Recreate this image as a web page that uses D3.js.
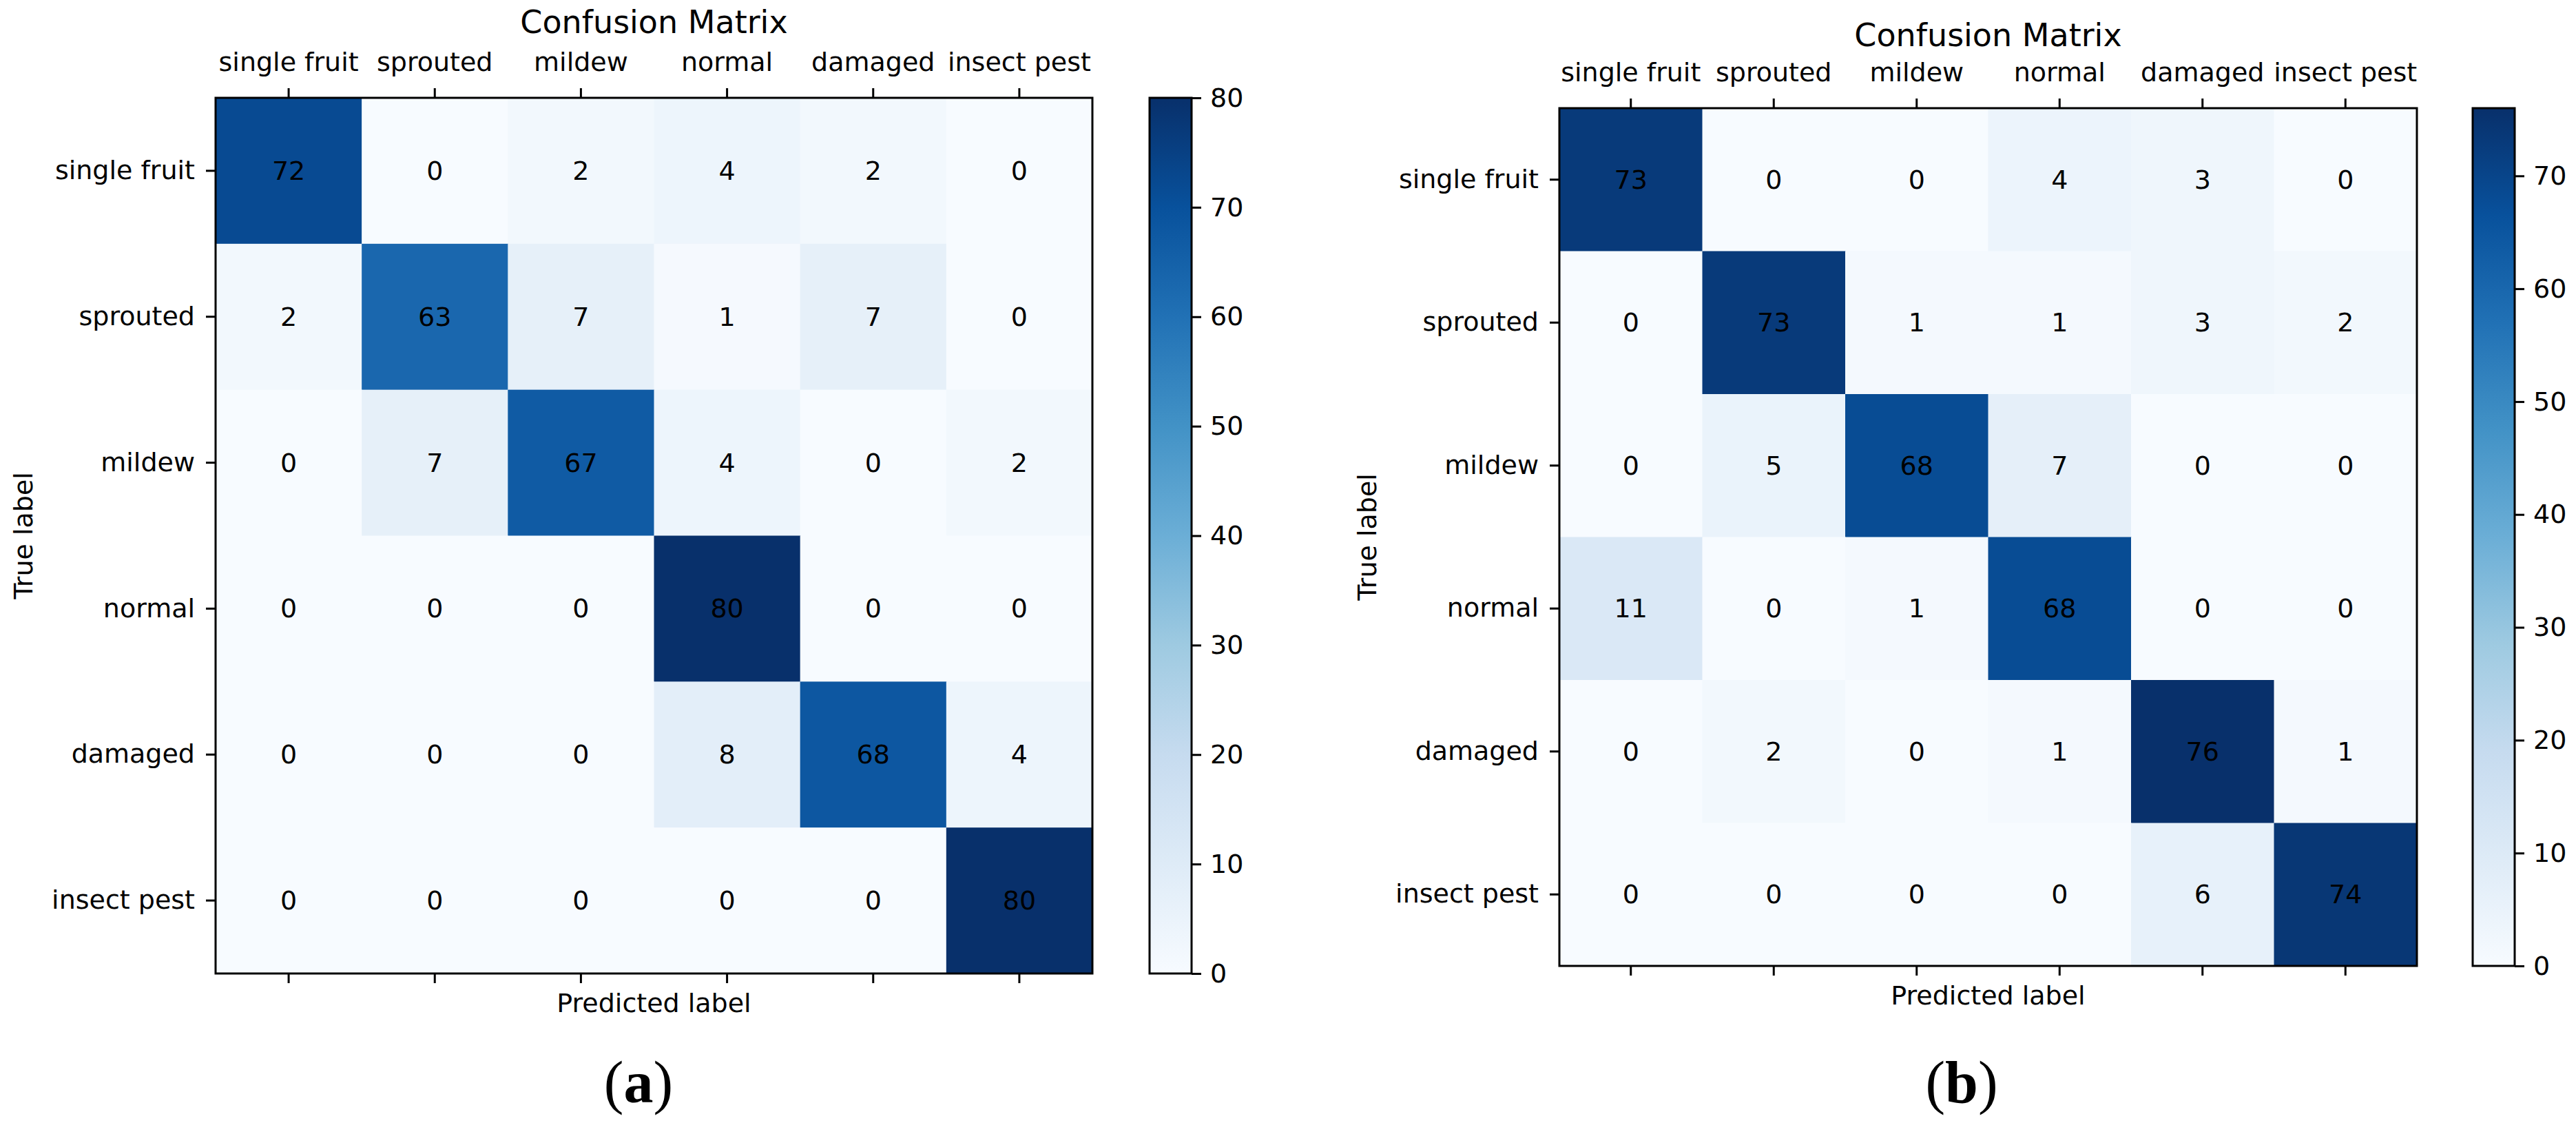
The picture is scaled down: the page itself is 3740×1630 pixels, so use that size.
<!DOCTYPE html>
<html>
<head>
<meta charset="utf-8">
<script src="https://cdn.jsdelivr.net/npm/d3@7"></script>
<style>
  body { margin: 0; background: #ffffff; }
  svg text { font-family: "DejaVu Sans", sans-serif; fill: #000; }
</style>
</head>
<body>
<svg id="figure" width="3740" height="1630"></svg>
<script>
// ------------------- données -------------------
var classes = ["single fruit", "sprouted", "mildew", "normal", "damaged", "insect pest"];

var matriceA = [
    [72, 0, 2, 4, 2, 0],
    [2, 63, 7, 1, 7, 0],
    [0, 7, 67, 4, 0, 2],
    [0, 0, 0, 80, 0, 0],
    [0, 0, 0, 8, 68, 4],
    [0, 0, 0, 0, 0, 80]
];
var matriceB = [
    [73, 0, 0, 4, 3, 0],
    [0, 73, 1, 1, 3, 2],
    [0, 5, 68, 7, 0, 0],
    [11, 0, 1, 68, 0, 0],
    [0, 2, 0, 1, 76, 1],
    [0, 0, 0, 0, 6, 74]
];
var ticksBarreA = [0, 10, 20, 30, 40, 50, 60, 70, 80];
var ticksBarreB = [0, 10, 20, 30, 40, 50, 60, 70];

var titre = "Confusion Matrix";
var labelX = "Predicted label";
var labelY = "True label";

// palette "Blues" de matplotlib (segments linéaires)
var bleus = ["#f7fbff", "#deebf7", "#c6dbef", "#9ecae1", "#6baed6", "#4292c6", "#2171b5", "#08519c", "#08306b"];

var svg = d3.select("#figure");

//-------------------Dessin d'une matrice de confusion avec sa barre de couleur----------------------------------------
function dessinerMatrice(matrice, ticksBarre, lettre, idGrad, pos) {
    var vmax = d3.max(matrice, function (r) { return d3.max(r); });
    var couleur = d3.scaleLinear()
        .domain(bleus.map(function (c, i) { return i / (bleus.length - 1) * vmax; }))
        .range(bleus)
        .interpolate(d3.interpolateRgb);

    var x = d3.scaleBand().domain(classes).range([pos.x, pos.x + pos.w]);
    var y = d3.scaleBand().domain(classes).range([pos.y, pos.y + pos.h]);

    var g = svg.append("g");

    // cellules
    matrice.forEach(function (ligne, l) {
        ligne.forEach(function (v, c) {
            g.append("rect")
                .attr("x", x(classes[c]))
                .attr("y", y(classes[l]))
                .attr("width", x.bandwidth() + 0.6)
                .attr("height", y.bandwidth() + 0.6)
                .attr("fill", couleur(v));
        });
    });
    // valeurs
    matrice.forEach(function (ligne, l) {
        ligne.forEach(function (v, c) {
            g.append("text")
                .attr("x", x(classes[c]) + x.bandwidth() / 2)
                .attr("y", y(classes[l]) + y.bandwidth() / 2)
                .attr("text-anchor", "middle")
                .attr("dominant-baseline", "central")
                .style("font-size", "38px")
                .text(v);
        });
    });

    // axes
    var axeHaut = g.append("g").attr("transform", "translate(0," + pos.y + ")")
        .call(d3.axisTop(x).tickSize(14).tickSizeOuter(0).tickPadding(25));
    var axeBas = g.append("g").attr("transform", "translate(0," + (pos.y + pos.h) + ")")
        .call(d3.axisBottom(x).tickSize(14).tickSizeOuter(0).tickFormat(""));
    var axeGauche = g.append("g").attr("transform", "translate(" + pos.x + ",0)")
        .call(d3.axisLeft(y).tickSize(14).tickSizeOuter(0).tickPadding(16));
    [axeHaut, axeBas, axeGauche].forEach(function (a) {
        a.select(".domain").remove();
        a.selectAll(".tick line").attr("stroke", "#000").attr("stroke-width", 3);
        a.selectAll(".tick text").style("font-size", "38px").attr("fill", "#000");
    });
    axeHaut.selectAll(".tick text").attr("dy", "0em");

    g.append("rect")
        .attr("x", pos.x).attr("y", pos.y)
        .attr("width", pos.w).attr("height", pos.h)
        .attr("fill", "none").attr("stroke", "#000").attr("stroke-width", 3);

    // titre et labels
    g.append("text")
        .attr("x", pos.x + pos.w / 2).attr("y", pos.titreY)
        .attr("text-anchor", "middle")
        .style("font-size", "46px")
        .text(titre);
    g.append("text")
        .attr("x", pos.x + pos.w / 2).attr("y", pos.labelXY)
        .attr("text-anchor", "middle")
        .style("font-size", "38px")
        .text(labelX);
    g.append("text")
        .attr("transform", "translate(" + pos.labelYX + "," + (pos.y + pos.h / 2) + ") rotate(-90)")
        .attr("text-anchor", "middle")
        .style("font-size", "38px")
        .text(labelY);

    // barre de couleur
    var echelleBarre = d3.scaleLinear().domain([0, vmax]).range([pos.y + pos.h, pos.y]);
    var grad = svg.append("defs").append("linearGradient")
        .attr("id", idGrad)
        .attr("x1", 0).attr("y1", 1).attr("x2", 0).attr("y2", 0);
    bleus.forEach(function (c, i) {
        grad.append("stop").attr("offset", i / (bleus.length - 1)).attr("stop-color", c);
    });
    g.append("rect")
        .attr("x", pos.cbX).attr("y", pos.y)
        .attr("width", pos.cbW).attr("height", pos.h)
        .attr("fill", "url(#" + idGrad + ")")
        .attr("stroke", "#000").attr("stroke-width", 3);
    var axeBarre = g.append("g").attr("transform", "translate(" + (pos.cbX + pos.cbW) + ",0)")
        .call(d3.axisRight(echelleBarre).tickValues(ticksBarre).tickSize(14).tickSizeOuter(0).tickPadding(13));
    axeBarre.select(".domain").remove();
    axeBarre.selectAll(".tick line").attr("stroke", "#000").attr("stroke-width", 3);
    axeBarre.selectAll(".tick text").style("font-size", "38px").attr("fill", "#000");

    // légende (a) / (b)
    var leg = g.append("text")
        .attr("x", pos.legX).attr("y", 1600)
        .attr("text-anchor", "middle")
        .style("font-family", "'Liberation Serif', serif")
        .style("font-size", "86px");
    leg.append("tspan").text("(");
    leg.append("tspan").style("font-weight", "bold").text(lettre);
    leg.append("tspan").text(")");
}

dessinerMatrice(matriceA, ticksBarreA, "a", "gradA",
    {x: 313, y: 142, w: 1273, h: 1271, cbX: 1669, cbW: 61, titreY: 48, labelXY: 1469, labelYX: 47, legX: 927});
dessinerMatrice(matriceB, ticksBarreB, "b", "gradB",
    {x: 2264, y: 157, w: 1245, h: 1245, cbX: 3590, cbW: 61, titreY: 67, labelXY: 1458, labelYX: 1998, legX: 2848});
</script>
</body>
</html>
